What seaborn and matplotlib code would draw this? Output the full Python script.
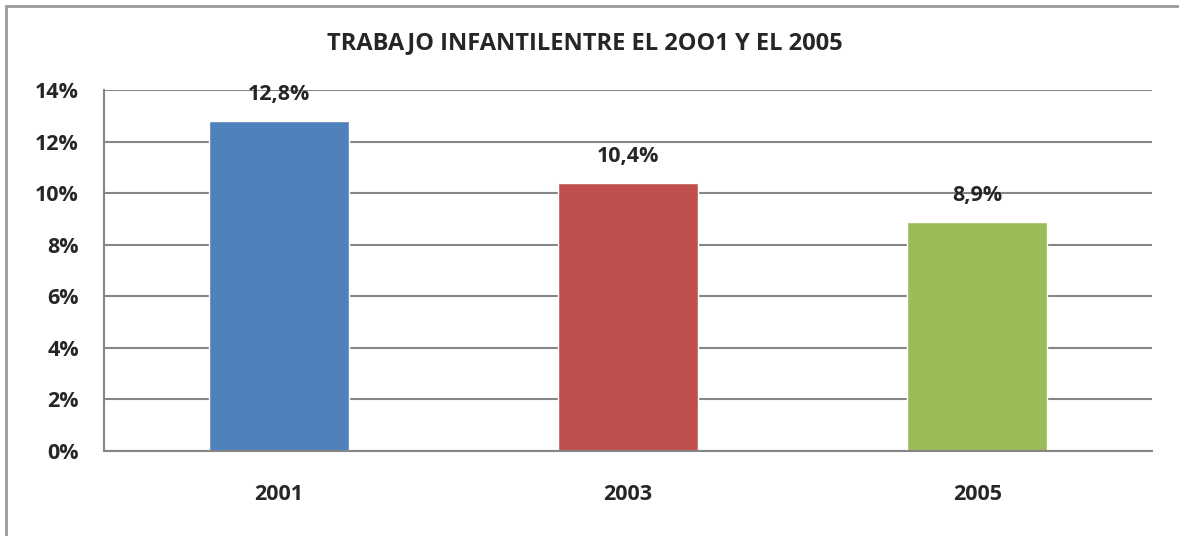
import seaborn as sns
import matplotlib.pyplot as plt
from matplotlib.lines import Line2D
from matplotlib.ticker import FuncFormatter
import pandas as pd

# data
years = ["2001", "2003", "2005"]
rates = [12.8, 10.4, 8.9]
labels = ["12,8%", "10,4%", "8,9%"]
colors = ["#4F81BD", "#C0504D", "#9BBB59"]
title = "TRABAJO INFANTILENTRE EL 2OO1 Y EL 2005"

sns.set_theme(style="white")
plt.rcParams['font.family'] = ['Open Sans', 'DejaVu Sans']

df = pd.DataFrame({"year": years, "rate": rates})

fig = plt.figure(figsize=(11.79, 5.36), dpi=100)
ax = fig.add_axes([104 / 1179, 1 - 451 / 536, (1152 - 104) / 1179, (451 - 90) / 536])

sns.barplot(data=df, x="year", y="rate", hue="year", palette=colors,
            width=0.4, legend=False, ax=ax, saturation=1, zorder=3)

ax.set_ylim(0, 14)
ax.set_yticks(range(0, 15, 2))
ax.yaxis.set_major_formatter(FuncFormatter(lambda v, p: f"{int(v)}%"))
ax.grid(axis="y", color="#868686", linewidth=1.5, zorder=0)
ax.set_xlabel("")
ax.set_ylabel("")

for s in ["top", "right"]:
    ax.spines[s].set_visible(False)
for s in ["left", "bottom"]:
    ax.spines[s].set_color("#868686")
    ax.spines[s].set_linewidth(1.5)
ax.spines["bottom"].set_zorder(4)

ax.tick_params(axis="both", length=0, labelsize=15.5)
ax.tick_params(axis="y", pad=18)
ax.tick_params(axis="x", pad=24)
for t in ax.get_xticklabels() + ax.get_yticklabels():
    t.set_fontweight("bold")

for bar, lab in zip(ax.patches, labels):
    ax.annotate(lab, (bar.get_x() + bar.get_width() / 2, bar.get_height()),
                xytext=(0, 15), textcoords="offset points", ha="center",
                va="baseline", fontsize=15.5, fontweight="bold")

fig.text(585 / 1179, 1 - 43 / 536, title, ha="center", va="center",
         fontsize=17, fontweight="bold")

# outer chart border (only top and left visible)
bx, by = 6 / 1179, 1 - 6 / 536
fig.add_artist(Line2D([bx, 1], [by, by], transform=fig.transFigure,
                      color="#9a9a9a", linewidth=2))
fig.add_artist(Line2D([bx, bx], [0, by], transform=fig.transFigure,
                      color="#9a9a9a", linewidth=2))

fig.savefig("out.png", dpi=100)
